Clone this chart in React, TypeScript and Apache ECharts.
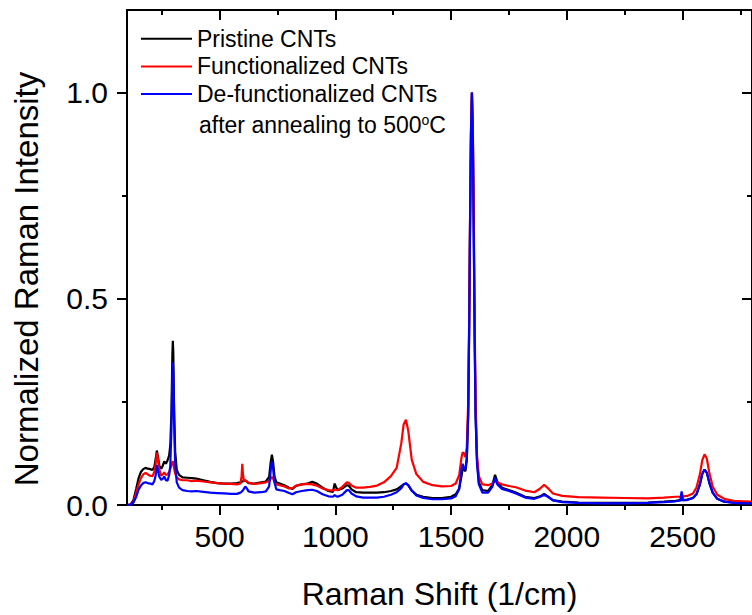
import React, { useEffect, useRef } from "react";
import * as echarts from "echarts";

// Raman shift (1/cm)
const xShift = [
  100, 115, 128, 140, 150, 160, 170, 180, 190, 200, 210, 218, 224, 229, 234, 240, 248, 255, 261, 268,
  275, 282, 287, 292, 296, 298, 300, 303, 308, 315, 325, 340, 360, 380, 400, 430, 460, 490, 520, 550,
  575, 590, 595, 598, 601, 605, 611, 617, 625, 650, 680, 700, 714, 721, 726, 731, 737, 745, 760, 780,
  800, 815, 830, 855, 880, 900, 920, 945, 970, 990, 997, 1002, 1010, 1030, 1050, 1058, 1070, 1090, 1120, 1150,
  1180, 1210, 1240, 1265, 1285, 1295, 1305, 1315, 1330, 1350, 1380, 1420, 1460, 1500, 1520, 1535, 1545, 1550, 1556, 1562,
  1568, 1574, 1578, 1582, 1586, 1590, 1594, 1598, 1602, 1606, 1612, 1620, 1635, 1660, 1678, 1690, 1700, 1720, 1750, 1780,
  1820, 1860, 1885, 1902, 1918, 1940, 1980, 2050, 2150, 2250, 2350, 2420, 2470, 2490, 2496, 2502, 2520, 2545, 2560, 2575,
  2585, 2595, 2605, 2615, 2630, 2650, 2680, 2720, 2760, 2800,
];

const pristine = [
  0, 0.001, 0.012, 0.04, 0.065, 0.08, 0.087, 0.09, 0.088, 0.087, 0.085, 0.092, 0.112, 0.132, 0.116, 0.094, 0.088, 0.096, 0.106, 0.1,
  0.108, 0.12, 0.145, 0.225, 0.365, 0.398, 0.37, 0.25, 0.13, 0.085, 0.073, 0.067, 0.066, 0.065, 0.064, 0.06, 0.056, 0.053, 0.052, 0.052,
  0.053, 0.055, 0.056, 0.057, 0.058, 0.058, 0.06, 0.057, 0.053, 0.052, 0.055, 0.057, 0.068, 0.105, 0.122, 0.105, 0.07, 0.055, 0.052, 0.048,
  0.042, 0.039, 0.046, 0.05, 0.052, 0.056, 0.052, 0.042, 0.034, 0.032, 0.052, 0.045, 0.036, 0.04, 0.048, 0.047, 0.038, 0.031, 0.03, 0.03,
  0.03, 0.031, 0.034, 0.038, 0.046, 0.05, 0.052, 0.048, 0.035, 0.025, 0.02, 0.017, 0.017, 0.02, 0.026, 0.04, 0.07, 0.088, 0.085, 0.082,
  0.11, 0.22, 0.42, 0.68, 0.9, 1.0, 0.9, 0.66, 0.4, 0.22, 0.11, 0.055, 0.036, 0.034, 0.048, 0.073, 0.056, 0.042, 0.036, 0.03,
  0.02, 0.017, 0.021, 0.027, 0.021, 0.012, 0.008, 0.006, 0.005, 0.005, 0.006, 0.008, 0.01, 0.012, 0.012, 0.012, 0.013, 0.017, 0.026, 0.05,
  0.075, 0.086, 0.078, 0.055, 0.03, 0.015, 0.008, 0.006, 0.005, 0.005,
];

const functionalized = [
  0, 0.001, 0.008, 0.03, 0.05, 0.065, 0.074, 0.078, 0.074, 0.071, 0.07, 0.08, 0.1, 0.127, 0.11, 0.085, 0.071, 0.074, 0.079, 0.073,
  0.074, 0.08, 0.088, 0.097, 0.104, 0.106, 0.1, 0.09, 0.076, 0.067, 0.062, 0.06, 0.06, 0.058, 0.059, 0.057, 0.055, 0.053, 0.052, 0.051,
  0.05, 0.052, 0.07, 0.1, 0.075, 0.058, 0.059, 0.058, 0.054, 0.051, 0.053, 0.055, 0.058, 0.064, 0.068, 0.064, 0.056, 0.05, 0.048, 0.045,
  0.04, 0.041, 0.047, 0.05, 0.051, 0.05, 0.047, 0.04, 0.036, 0.035, 0.038, 0.037, 0.036, 0.044, 0.055, 0.054, 0.047, 0.042, 0.042, 0.044,
  0.047, 0.055, 0.07, 0.09, 0.15, 0.195, 0.207, 0.18, 0.11, 0.075, 0.056, 0.048, 0.045, 0.046, 0.052, 0.072, 0.115, 0.128, 0.125, 0.116,
  0.14, 0.25, 0.44, 0.7, 0.91, 1.0, 0.92, 0.7, 0.44, 0.25, 0.12, 0.07, 0.05, 0.048, 0.052, 0.058, 0.055, 0.05, 0.046, 0.043,
  0.035, 0.031, 0.04, 0.049, 0.041, 0.028, 0.022, 0.019, 0.018, 0.017, 0.016, 0.018, 0.02, 0.02, 0.021, 0.021, 0.022, 0.028, 0.042, 0.075,
  0.108, 0.123, 0.112, 0.08, 0.045, 0.025, 0.015, 0.01, 0.009, 0.008,
];

const defunctionalized = [
  0, 0.001, 0.006, 0.02, 0.037, 0.047, 0.053, 0.055, 0.053, 0.052, 0.05, 0.058, 0.072, 0.097, 0.083, 0.068, 0.061, 0.064, 0.069, 0.06,
  0.059, 0.072, 0.095, 0.185, 0.315, 0.346, 0.32, 0.21, 0.1, 0.055, 0.042, 0.036, 0.034, 0.033, 0.034, 0.032, 0.03, 0.029, 0.028, 0.027,
  0.027, 0.03, 0.032, 0.034, 0.036, 0.039, 0.045, 0.041, 0.033, 0.03, 0.031, 0.033, 0.045, 0.085, 0.105, 0.09, 0.055, 0.038, 0.036, 0.034,
  0.029, 0.026, 0.031, 0.034, 0.036, 0.037, 0.034, 0.026, 0.021, 0.02, 0.024, 0.022, 0.02, 0.025, 0.036, 0.036, 0.028, 0.021, 0.018, 0.018,
  0.018, 0.02, 0.025, 0.031, 0.041, 0.05, 0.053, 0.048, 0.035, 0.023, 0.017, 0.014, 0.014, 0.016, 0.021, 0.038, 0.085, 0.1, 0.086, 0.088,
  0.115, 0.22, 0.42, 0.68, 0.9, 1.0, 0.9, 0.66, 0.4, 0.21, 0.1, 0.05, 0.03, 0.03, 0.044, 0.066, 0.05, 0.039, 0.034, 0.028,
  0.018, 0.015, 0.02, 0.025, 0.02, 0.011, 0.007, 0.005, 0.004, 0.004, 0.005, 0.007, 0.009, 0.011, 0.033, 0.012, 0.012, 0.017, 0.026, 0.05,
  0.075, 0.086, 0.078, 0.055, 0.03, 0.015, 0.008, 0.005, 0.004, 0.004,
];

const seriesNames = ["Pristine CNTs", "Functionalized CNTs", "De-functionalized CNTs"];
const seriesColors = ["#000000", "#ff0000", "#0000ff"];

const xMajorTicks = [500, 1000, 1500, 2000, 2500];
const xMinorTicks = [250, 750, 1250, 1750, 2250, 2750];
const yMajorTicks = [0, 0.5, 1.0];
const yMinorTicks = [0.25, 0.75];

const FONT = "'Liberation Sans', Arial, Helvetica, sans-serif";

export default function App() {
  const ref = useRef<HTMLDivElement>(null);

  useEffect(() => {
    if (!ref.current) return;
    const chart = echarts.init(ref.current, undefined, { renderer: "svg" });

    const lineW = 2;
    const baseX = { type: "value", min: 100, max: 2800, splitLine: { show: false } };
    const baseY = { type: "value", min: 0, max: 1.2, splitLine: { show: false } };

    const xAxes: any[] = [
      {
        ...baseX,
        position: "bottom",
        axisLine: { show: true, onZero: false, lineStyle: { color: "#000", width: lineW } },
        axisTick: { show: true, inside: false, length: 10, customValues: xMajorTicks, lineStyle: { color: "#000", width: lineW } },
        axisLabel: {
          show: true,
          customValues: xMajorTicks,
          fontSize: 30,
          color: "#000",
          margin: 16,
          fontFamily: FONT,
          formatter: (v: number) => String(v),
        },
        name: "Raman Shift (1/cm)",
        nameLocation: "middle",
        nameGap: 73,
        nameTextStyle: { fontSize: 32, color: "#000", fontFamily: FONT },
      },
      {
        ...baseX,
        position: "bottom",
        axisLine: { show: false, onZero: false },
        axisTick: { show: true, inside: false, length: 5, customValues: xMinorTicks, lineStyle: { color: "#000", width: lineW } },
        axisLabel: { show: false },
      },
      {
        ...baseX,
        position: "top",
        axisLine: { show: true, onZero: false, lineStyle: { color: "#000", width: lineW } },
        axisTick: { show: true, inside: true, length: 10, customValues: xMajorTicks, lineStyle: { color: "#000", width: lineW } },
        axisLabel: { show: false },
      },
      {
        ...baseX,
        position: "top",
        axisLine: { show: false, onZero: false },
        axisTick: { show: true, inside: true, length: 5, customValues: xMinorTicks, lineStyle: { color: "#000", width: lineW } },
        axisLabel: { show: false },
      },
    ];

    const yAxes: any[] = [
      {
        ...baseY,
        position: "left",
        axisLine: { show: true, onZero: false, lineStyle: { color: "#000", width: lineW } },
        axisTick: { show: true, inside: false, length: 10, customValues: yMajorTicks, lineStyle: { color: "#000", width: lineW } },
        axisLabel: {
          show: true,
          customValues: yMajorTicks,
          fontSize: 30,
          color: "#000",
          margin: 19,
          fontFamily: FONT,
          formatter: (v: number) => v.toFixed(1),
        },
        name: "Normalized Raman Intensity",
        nameLocation: "middle",
        nameGap: 84,
        nameTextStyle: { fontSize: 33, color: "#000", fontFamily: FONT, padding: [0, 43, 0, 0] },
      },
      {
        ...baseY,
        position: "left",
        axisLine: { show: false, onZero: false },
        axisTick: { show: true, inside: false, length: 5, customValues: yMinorTicks, lineStyle: { color: "#000", width: lineW } },
        axisLabel: { show: false },
      },
      {
        ...baseY,
        position: "right",
        axisLine: { show: true, onZero: false, lineStyle: { color: "#000", width: lineW } },
        axisTick: { show: true, inside: true, length: 10, customValues: yMajorTicks, lineStyle: { color: "#000", width: lineW } },
        axisLabel: { show: false },
      },
      {
        ...baseY,
        position: "right",
        axisLine: { show: false, onZero: false },
        axisTick: { show: true, inside: true, length: 5, customValues: yMinorTicks, lineStyle: { color: "#000", width: lineW } },
        axisLabel: { show: false },
      },
    ];

    const dataSets = [pristine, functionalized, defunctionalized];

    const option: any = {
      animation: false,
      backgroundColor: "#ffffff",
      textStyle: { fontFamily: FONT },
      grid: { left: 127, top: 10, width: 633, height: 504, containLabel: false },
      xAxis: xAxes,
      yAxis: yAxes,
      legend: {
        show: true,
        orient: "vertical",
        left: 141,
        top: 25,
        padding: 0,
        itemGap: 0,
        itemWidth: 51,
        itemHeight: 2,
        icon: "rect",
        selectedMode: false,
        data: seriesNames,
        textStyle: { fontSize: 23, color: "#000", fontFamily: FONT, lineHeight: 27.6 },
      },
      graphic: [
        {
          type: "text",
          left: 199,
          top: 113,
          style: {
            text: "after annealing to 500{sup|o}C",
            fontSize: 23,
            fontFamily: FONT,
            fill: "#000",
            rich: {
              sup: { fontSize: 14, fontFamily: FONT, fill: "#000", verticalAlign: "top", lineHeight: 14, padding: [0, 0, 12, 0] },
            },
          },
        },
      ],
      series: dataSets.map((vals, i) => ({
        name: seriesNames[i],
        type: "line",
        xAxisIndex: 0,
        yAxisIndex: 0,
        showSymbol: false,
        symbol: "none",
        clip: true,
        lineStyle: { color: seriesColors[i], width: 2.2 },
        itemStyle: { color: seriesColors[i] },
        data: xShift.map((x, k) => [x, vals[k]]),
      })),
    };

    chart.setOption(option);
    return () => {
      chart.dispose();
    };
  }, []);

  return (
    <div
      ref={ref}
      style={{ position: "absolute", left: 0, top: 0, width: 752, height: 615, background: "#fff" }}
    />
  );
}
